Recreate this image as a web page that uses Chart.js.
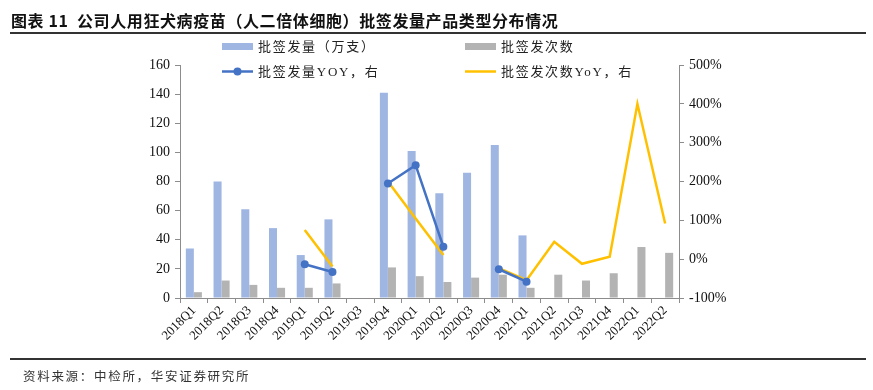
<!DOCTYPE html>
<html>
<head>
<meta charset="utf-8">
<script src="https://cdn.jsdelivr.net/npm/chart.js@4/dist/chart.umd.min.js"></script>
<style>
body { margin: 0; background: #fff; }
#page { position: relative; width: 873px; height: 390px; overflow: hidden; }
#wrap { position: absolute; left: 0; top: 0; width: 873px; height: 390px; }
#title { position: absolute; left: 11px; top: 8px; font: bold 16px "Noto Sans CJK SC"; color: #111; letter-spacing: 0.6px; white-space: nowrap; }
.rule { position: absolute; left: 10px; width: 856px; height: 2px; background: #333; }
#source { position: absolute; left: 23px; top: 366px; font: 12.5px "Noto Sans CJK SC"; color: #333; letter-spacing: 1.7px; white-space: nowrap; }
</style>
</head>
<body>
<div id="page">
  <div id="wrap"><canvas id="chart"></canvas></div>
  <div id="title">图表 11&nbsp; 公司人用狂犬病疫苗（人二倍体细胞）批签发量产品类型分布情况</div>
  <div class="rule" style="top:32px"></div>
  <div class="rule" style="top:358px;height:1.5px"></div>
  <div id="source">资料来源：中检所，华安证券研究所</div>
</div>
<script>
var quarters = ["2018Q1", "2018Q2", "2018Q3", "2018Q4", "2019Q1", "2019Q2", "2019Q3", "2019Q4",
    "2020Q1", "2020Q2", "2020Q3", "2020Q4", "2021Q1", "2021Q2", "2021Q3", "2021Q4", "2022Q1", "2022Q2"];
// 批签发量（万支）
var batchVolume = [34, 80, 61, 48, 29.5, 54, null, 141, 101, 72, 86, 105, 43, null, null, null, null, null];
// 批签发次数
var batchCount = [4, 12, 9, 7, 7, 10, null, 21, 15, 11, 14, 16, 7, 16, 12, 17, 35, 31];
// YoY, %
var volumeYoY = [null, null, null, null, -13, -33, null, 195, 242, 32, null, -26, -58, null, null, null, null, null];
var countYoY = [null, null, null, null, 75, -19, null, 200, 105, 11, null, -23, -54, 45, -12, 6, 400, 92];
var leftTicks = [0, 20, 40, 60, 80, 100, 120, 140, 160];
var rightTicks = [-100, 0, 100, 200, 300, 400, 500];

var axisColor = "#8c8c8c";
var tickFont = { family: "Liberation Serif", size: 14 };

//Draws the 2x2 legend above the plot, like the original report.
var cornerLegend = {
    id: "cornerLegend",
    afterDraw: function (chart) {
        var ctx = chart.ctx;
        var items = chart.options.plugins.cornerLegend.items;
        ctx.save();
        ctx.font = '13px "Liberation Serif", "Noto Sans CJK SC"';
        ctx.letterSpacing = "1.7px";
        ctx.textBaseline = "middle";
        ctx.fillStyle = "#222";
        items.forEach(function (item) {
            var ds = chart.data.datasets[item.dataset];
            if (item.kind === "box") {
                ctx.fillStyle = ds.backgroundColor;
                ctx.fillRect(item.x, item.y - 3.5, 31, 7);
            } else {
                ctx.strokeStyle = ds.borderColor;
                ctx.lineWidth = 2.5;
                ctx.beginPath();
                ctx.moveTo(item.x, item.y);
                ctx.lineTo(item.x + 31, item.y);
                ctx.stroke();
                if (ds.pointRadius > 0) {
                    ctx.fillStyle = ds.borderColor;
                    ctx.beginPath();
                    ctx.arc(item.x + 15.5, item.y, 4, 0, Math.PI * 2);
                    ctx.fill();
                }
            }
            ctx.fillStyle = "#222";
            ctx.fillText(ds.label, item.x + 36, item.y + 1);
        });
        ctx.restore();
    }
};

new Chart(document.getElementById("chart"), {
    type: "bar",
    data: {
        labels: quarters,
        datasets: [{
            label: "批签发量（万支）",
            data: batchVolume,
            backgroundColor: "#a0b6e2",
            yAxisID: "y",
            order: 2,
            categoryPercentage: 0.58,
            barPercentage: 1
        }, {
            label: "批签发次数",
            data: batchCount,
            backgroundColor: "#b3b3b3",
            yAxisID: "y",
            order: 2,
            categoryPercentage: 0.58,
            barPercentage: 1
        }, {
            type: "line",
            label: "批签发量YOY，右",
            data: volumeYoY,
            borderColor: "#4472c4",
            backgroundColor: "#4472c4",
            borderWidth: 2.5,
            pointRadius: 4,
            pointBackgroundColor: "#4472c4",
            pointBorderWidth: 0,
            yAxisID: "y1",
            order: 0,
            spanGaps: false
        }, {
            type: "line",
            label: "批签发次数YoY，右",
            data: countYoY,
            borderColor: "#ffc000",
            backgroundColor: "#ffc000",
            borderWidth: 2.5,
            pointRadius: 0,
            yAxisID: "y1",
            order: 1,
            spanGaps: false
        }]
    },
    options: {
        responsive: true,
        maintainAspectRatio: false,
        animation: false,
        layout: { padding: { left: 130, right: 134, top: 65, bottom: 32 } },
        plugins: {
            legend: { display: false },
            tooltip: { enabled: false },
            cornerLegend: {
                items: [
                    { dataset: 0, kind: "box", x: 222, y: 46.5 },
                    { dataset: 1, kind: "box", x: 465, y: 46.5 },
                    { dataset: 2, kind: "line", x: 222, y: 71.5 },
                    { dataset: 3, kind: "line", x: 465, y: 71.5 }
                ]
            }
        },
        scales: {
            x: {
                offset: true,
                grid: { offset: true, drawOnChartArea: false, tickLength: 5, color: axisColor },
                border: { color: axisColor },
                ticks: { minRotation: 45, maxRotation: 45, autoSkip: false, padding: 0, color: "#111", font: { family: "Liberation Serif", size: 13 } },
                afterFit: function (scale) { scale.height = 60; }
            },
            y: {
                position: "left",
                min: leftTicks[0],
                max: leftTicks[leftTicks.length - 1],
                grid: { drawOnChartArea: false, tickLength: 5, color: axisColor },
                border: { color: axisColor },
                ticks: { stepSize: leftTicks[1] - leftTicks[0], padding: 5, color: "#111", font: tickFont },
                afterFit: function (scale) { scale.width = 50; }
            },
            y1: {
                position: "right",
                min: rightTicks[0],
                max: rightTicks[rightTicks.length - 1],
                grid: { drawOnChartArea: false, tickLength: 5, color: axisColor },
                border: { color: axisColor },
                ticks: {
                    stepSize: rightTicks[1] - rightTicks[0],
                    padding: 5,
                    color: "#111",
                    font: tickFont,
                    callback: function (v) { return v + "%"; }
                },
                afterFit: function (scale) { scale.width = 60; }
            }
        }
    },
    plugins: [cornerLegend]
});
</script>
</body>
</html>
